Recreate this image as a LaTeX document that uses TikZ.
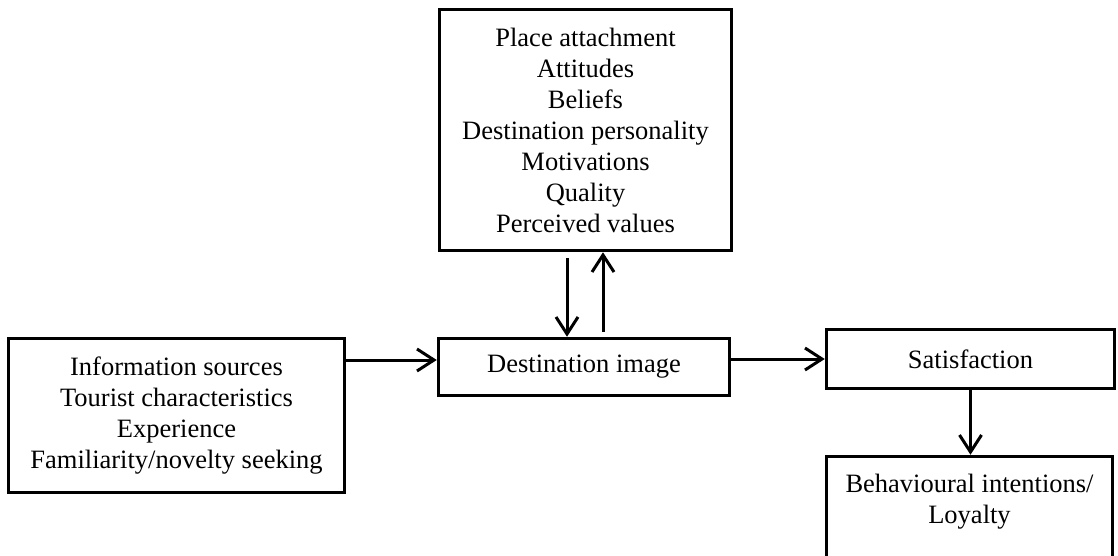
\documentclass[tikz,border=0pt]{standalone}
\usepackage{fontspec}
\setmainfont{Liberation Serif}
\usetikzlibrary{arrows.meta,calc}
\tikzset{
  box/.style={draw=black, line width=3.5pt, fill=white, align=center, inner sep=0pt,
    font=\fontsize{26.5}{31}\selectfont},
  arr/.style={line width=3pt, -{Straight Barb[length=17pt,width=22pt,line width=3pt]}},
}
\begin{document}
\begin{tikzpicture}[x=1pt,y=-1pt]
\clip (0,0) rectangle (1118,556);
\fill[white] (0,0) rectangle (1118,556);
\node[box, minimum width=292pt, minimum height=241pt] (top) at (585.5,130)
  {Place attachment\\Attitudes\\Beliefs\\Destination personality\\Motivations\\Quality\\Perceived values};
\node[box, minimum width=291pt, minimum height=57pt] (dest) at (584,367) {Destination image};
\node[box, minimum width=336pt, minimum height=154pt] (left) at (176.5,415.5)
  {Information sources\\Tourist characteristics\\Experience\\Familiarity/novelty seeking};
\node[box, minimum width=288pt, minimum height=59pt] (sat) at (970.5,359) {Satisfaction};
\node[box, minimum width=286pt, minimum height=140pt] (beh) at (969.5,526.5) {};
\node[font=\fontsize{26.5}{31}\selectfont, align=center, anchor=base, inner sep=0pt] (behtxt) at (969.5,523)
  {Behavioural intentions/\\Loyalty};
\coordinate (ly) at ([yshift=7pt]dest.west);
\draw[arr] (left.east |- ly) -- (ly);
\draw[arr] (dest.east |- sat.west) -- (sat.west);
\draw[arr] (sat.south) -- (sat.south |- beh.north);
\coordinate (d1) at ([xshift=-18.5pt]top.south);
\coordinate (u1) at ([xshift=17.5pt]top.south);
\coordinate (d2) at (d1 |- dest.north);
\coordinate (u2) at (u1 |- dest.north);
\draw[arr] ([yshift=-6pt]d1) -- (d2);
\draw[arr] ([yshift=5pt]u2) -- (u1);
\end{tikzpicture}
\end{document}
